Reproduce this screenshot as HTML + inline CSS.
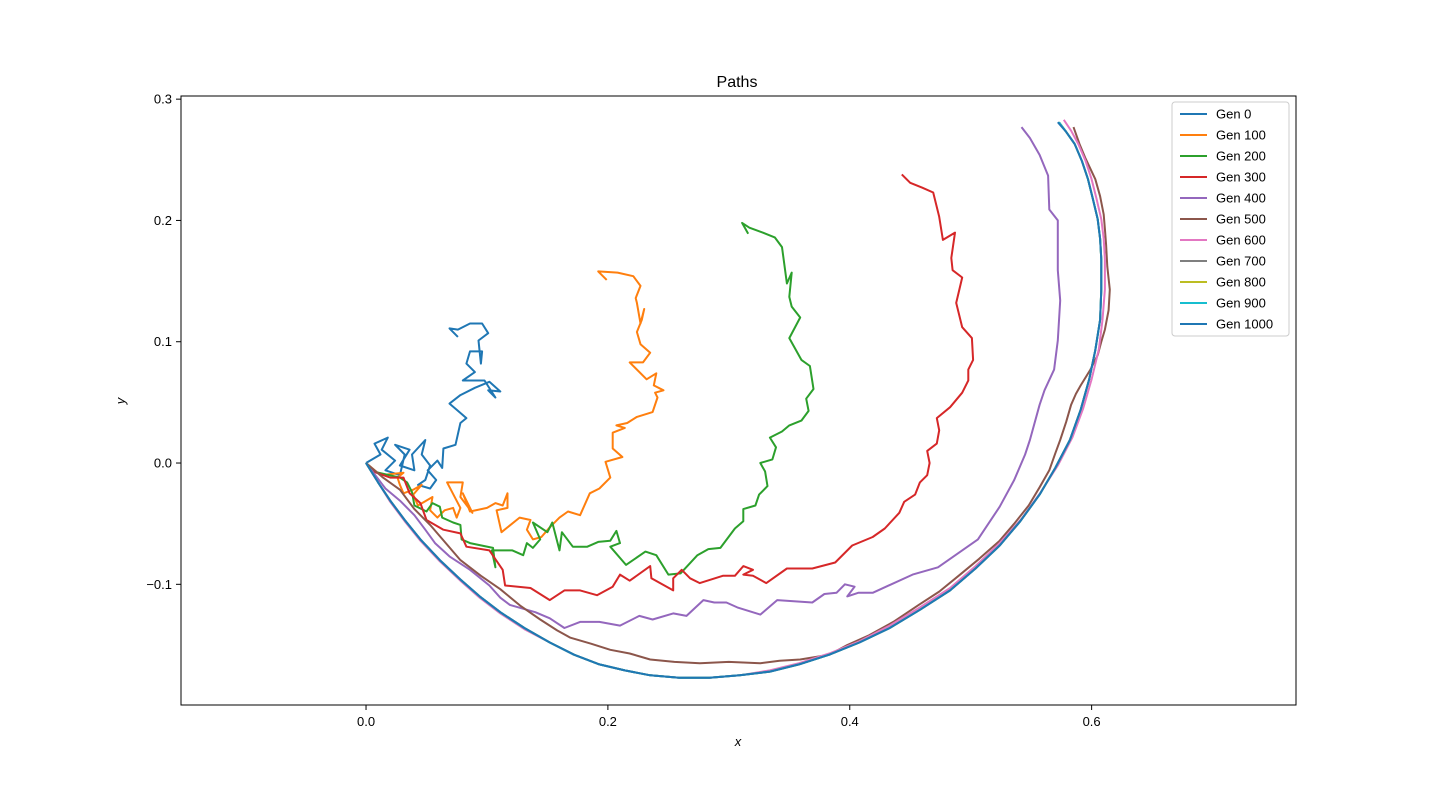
<!DOCTYPE html>
<html><head><meta charset="utf-8"><style>
body{margin:0;background:#fff;}
svg text{font-family:"Liberation Sans","DejaVu Sans",sans-serif;fill:#000;}
</style></head><body>
<svg id="chart" width="1440" height="792" xmlns="http://www.w3.org/2000/svg">
<rect width="1440" height="792" fill="#fff"/>
<text x="737" y="87" font-size="16" text-anchor="middle">Paths</text>
<g id="plot"></g>
<rect x="181" y="96" width="1115" height="609" fill="none" stroke="#000" stroke-width="1"/>
<g id="ticks"></g>
<text x="738" y="746" font-size="13" font-style="italic" text-anchor="middle">x</text>
<text x="125" y="401" font-size="13" font-style="italic" text-anchor="middle" transform="rotate(-90 125 401)">y</text>
<g id="legend"></g>
</svg>
<script>
const xTicks=[0.0,0.2,0.4,0.6];
const yTicks=[-0.1,0.0,0.1,0.2,0.3];
const seriesNames=["Gen 0","Gen 100","Gen 200","Gen 300","Gen 400","Gen 500","Gen 600","Gen 700","Gen 800","Gen 900","Gen 1000"];
const colors=["#1f77b4","#ff7f0e","#2ca02c","#d62728","#9467bd","#8c564b","#e377c2","#7f7f7f","#bcbd22","#17becf","#1f77b4"];
const gen0=[[0,0],[0.012,0.007],[0.007,0.016],[0.018,0.021],[0.013,0.011],[0.024,0.002],[0.016,-0.006],[0.028,-0.010],[0.032,0.007],[0.024,0.015],[0.036,0.011],[0.028,-0.002],[0.040,-0.006],[0.038,0.007],[0.049,0.019],[0.046,0.007],[0.053,-0.002],[0.049,-0.014],[0.043,-0.018],[0.053,-0.021],[0.058,-0.014],[0.051,-0.006],[0.059,0.002],[0.063,-0.004],[0.064,0.012],[0.074,0.015],[0.078,0.033],[0.083,0.037],[0.075,0.044],[0.069,0.049],[0.078,0.056],[0.090,0.062],[0.102,0.067],[0.111,0.059],[0.101,0.060],[0.107,0.054],[0.098,0.068],[0.080,0.068],[0.090,0.075],[0.083,0.082],[0.086,0.092],[0.096,0.092],[0.095,0.082],[0.093,0.101],[0.101,0.107],[0.096,0.115],[0.086,0.115],[0.076,0.110],[0.069,0.111],[0.076,0.104]];
const gen100=[[0,0],[0.012,-0.010],[0.031,-0.008],[0.026,-0.012],[0.028,-0.018],[0.031,-0.025],[0.039,-0.022],[0.046,-0.018],[0.039,-0.026],[0.043,-0.035],[0.055,-0.028],[0.053,-0.039],[0.059,-0.045],[0.065,-0.039],[0.072,-0.037],[0.075,-0.045],[0.078,-0.037],[0.067,-0.016],[0.080,-0.016],[0.078,-0.028],[0.088,-0.041],[0.080,-0.025],[0.086,-0.040],[0.100,-0.037],[0.107,-0.033],[0.113,-0.035],[0.117,-0.025],[0.117,-0.037],[0.108,-0.039],[0.112,-0.057],[0.127,-0.045],[0.136,-0.047],[0.133,-0.055],[0.138,-0.063],[0.145,-0.061],[0.152,-0.053],[0.160,-0.045],[0.167,-0.040],[0.177,-0.043],[0.185,-0.025],[0.193,-0.021],[0.202,-0.012],[0.198,0.001],[0.212,0.005],[0.204,0.012],[0.204,0.025],[0.214,0.029],[0.207,0.031],[0.216,0.033],[0.224,0.038],[0.237,0.042],[0.241,0.054],[0.239,0.058],[0.246,0.060],[0.238,0.064],[0.240,0.074],[0.232,0.069],[0.218,0.083],[0.229,0.083],[0.235,0.091],[0.227,0.098],[0.224,0.108],[0.228,0.118],[0.230,0.127],[0.227,0.115],[0.224,0.132],[0.223,0.136],[0.227,0.146],[0.221,0.154],[0.208,0.157],[0.192,0.158],[0.199,0.151]];
const gen200=[[0,0],[0.006,-0.007],[0.028,-0.012],[0.034,-0.016],[0.038,-0.024],[0.040,-0.035],[0.050,-0.040],[0.055,-0.033],[0.061,-0.036],[0.063,-0.045],[0.072,-0.049],[0.078,-0.051],[0.079,-0.063],[0.086,-0.066],[0.105,-0.070],[0.107,-0.086],[0.104,-0.072],[0.121,-0.072],[0.130,-0.076],[0.133,-0.066],[0.138,-0.070],[0.144,-0.063],[0.138,-0.049],[0.150,-0.057],[0.154,-0.049],[0.160,-0.072],[0.162,-0.057],[0.171,-0.069],[0.183,-0.069],[0.192,-0.065],[0.202,-0.064],[0.207,-0.056],[0.210,-0.066],[0.202,-0.069],[0.215,-0.084],[0.231,-0.073],[0.240,-0.076],[0.250,-0.092],[0.260,-0.091],[0.274,-0.076],[0.283,-0.071],[0.293,-0.070],[0.305,-0.054],[0.312,-0.048],[0.312,-0.038],[0.322,-0.035],[0.325,-0.026],[0.332,-0.019],[0.330,-0.007],[0.326,0.000],[0.336,0.003],[0.339,0.013],[0.334,0.021],[0.344,0.026],[0.350,0.031],[0.360,0.035],[0.366,0.043],[0.364,0.053],[0.370,0.061],[0.367,0.080],[0.360,0.085],[0.350,0.103],[0.359,0.120],[0.352,0.129],[0.350,0.137],[0.352,0.157],[0.348,0.148],[0.344,0.178],[0.338,0.186],[0.328,0.190],[0.317,0.194],[0.311,0.198],[0.316,0.189]];
const gen300=[[0,0],[0.006,-0.007],[0.020,-0.012],[0.031,-0.012],[0.036,-0.025],[0.045,-0.033],[0.050,-0.047],[0.064,-0.055],[0.078,-0.058],[0.083,-0.069],[0.102,-0.072],[0.113,-0.088],[0.115,-0.101],[0.136,-0.103],[0.152,-0.113],[0.164,-0.105],[0.177,-0.105],[0.191,-0.109],[0.204,-0.102],[0.210,-0.092],[0.218,-0.097],[0.235,-0.085],[0.236,-0.095],[0.254,-0.105],[0.254,-0.095],[0.261,-0.088],[0.268,-0.095],[0.276,-0.099],[0.295,-0.093],[0.305,-0.093],[0.312,-0.085],[0.320,-0.088],[0.312,-0.092],[0.320,-0.093],[0.331,-0.099],[0.348,-0.087],[0.369,-0.087],[0.388,-0.082],[0.402,-0.068],[0.419,-0.061],[0.429,-0.054],[0.441,-0.041],[0.445,-0.032],[0.454,-0.026],[0.458,-0.016],[0.464,-0.010],[0.466,0.000],[0.464,0.010],[0.472,0.016],[0.474,0.027],[0.472,0.037],[0.483,0.046],[0.493,0.058],[0.498,0.068],[0.498,0.077],[0.502,0.085],[0.501,0.103],[0.493,0.112],[0.488,0.132],[0.493,0.153],[0.485,0.159],[0.484,0.169],[0.487,0.190],[0.477,0.184],[0.474,0.203],[0.469,0.223],[0.460,0.227],[0.450,0.231],[0.443,0.238]];
const gen400=[[0,0],[0.016,-0.021],[0.028,-0.031],[0.040,-0.043],[0.049,-0.055],[0.057,-0.066],[0.069,-0.077],[0.086,-0.088],[0.102,-0.101],[0.111,-0.111],[0.119,-0.117],[0.140,-0.123],[0.152,-0.128],[0.164,-0.136],[0.177,-0.131],[0.193,-0.131],[0.210,-0.134],[0.226,-0.126],[0.237,-0.129],[0.254,-0.124],[0.265,-0.126],[0.279,-0.113],[0.288,-0.115],[0.298,-0.115],[0.307,-0.119],[0.326,-0.125],[0.340,-0.113],[0.369,-0.115],[0.379,-0.108],[0.389,-0.107],[0.396,-0.100],[0.404,-0.102],[0.398,-0.110],[0.407,-0.107],[0.419,-0.107],[0.452,-0.092],[0.473,-0.086],[0.506,-0.063],[0.524,-0.036],[0.536,-0.014],[0.545,0.007],[0.549,0.019],[0.557,0.048],[0.561,0.060],[0.569,0.077],[0.572,0.101],[0.574,0.134],[0.572,0.159],[0.572,0.200],[0.565,0.209],[0.564,0.237],[0.557,0.254],[0.549,0.268],[0.542,0.277]];
const gen500=[[0,0],[0.014,-0.012],[0.028,-0.022],[0.040,-0.038],[0.053,-0.051],[0.066,-0.066],[0.078,-0.080],[0.095,-0.093],[0.111,-0.104],[0.128,-0.118],[0.144,-0.129],[0.158,-0.138],[0.169,-0.144],[0.186,-0.149],[0.202,-0.154],[0.218,-0.157],[0.235,-0.162],[0.255,-0.164],[0.276,-0.165],[0.300,-0.164],[0.326,-0.165],[0.342,-0.163],[0.359,-0.162],[0.371,-0.160],[0.383,-0.158],[0.398,-0.150],[0.416,-0.142],[0.436,-0.131],[0.457,-0.117],[0.474,-0.106],[0.490,-0.093],[0.507,-0.079],[0.524,-0.064],[0.536,-0.050],[0.548,-0.035],[0.557,-0.020],[0.565,-0.006],[0.570,0.008],[0.574,0.019],[0.579,0.034],[0.583,0.048],[0.587,0.057],[0.591,0.064],[0.599,0.077],[0.605,0.089],[0.608,0.100],[0.611,0.110],[0.614,0.126],[0.615,0.143],[0.613,0.162],[0.612,0.180],[0.611,0.193],[0.610,0.205],[0.607,0.220],[0.603,0.234],[0.595,0.251],[0.590,0.263],[0.585,0.277]];
const gen600=[[0,0],[0.010,-0.016],[0.020,-0.032],[0.032,-0.048],[0.045,-0.064],[0.061,-0.081],[0.078,-0.097],[0.094,-0.111],[0.111,-0.124],[0.131,-0.137],[0.152,-0.148],[0.172,-0.158],[0.193,-0.166],[0.214,-0.171],[0.235,-0.175],[0.259,-0.177],[0.284,-0.177],[0.309,-0.175],[0.334,-0.171],[0.358,-0.165],[0.383,-0.157],[0.408,-0.147],[0.433,-0.134],[0.458,-0.119],[0.483,-0.103],[0.504,-0.085],[0.524,-0.066],[0.542,-0.046],[0.558,-0.024],[0.572,-0.002],[0.584,0.021],[0.593,0.045],[0.600,0.069],[0.606,0.094],[0.609,0.118],[0.611,0.143],[0.611,0.168],[0.610,0.185],[0.608,0.201],[0.604,0.218],[0.600,0.234],[0.595,0.249],[0.589,0.263],[0.583,0.274],[0.577,0.283]];
const gen700=[[0,0],[0.010,-0.016],[0.020,-0.031],[0.032,-0.047],[0.045,-0.063],[0.061,-0.080],[0.078,-0.096],[0.094,-0.110],[0.111,-0.123],[0.131,-0.136],[0.152,-0.148],[0.172,-0.158],[0.193,-0.166],[0.214,-0.171],[0.235,-0.175],[0.259,-0.177],[0.284,-0.177],[0.309,-0.175],[0.334,-0.172],[0.358,-0.166],[0.383,-0.158],[0.408,-0.148],[0.433,-0.136],[0.458,-0.121],[0.483,-0.105],[0.504,-0.087],[0.524,-0.068],[0.541,-0.048],[0.557,-0.026],[0.570,-0.004],[0.582,0.019],[0.591,0.044],[0.598,0.069],[0.603,0.093],[0.607,0.118],[0.608,0.143],[0.608,0.168],[0.607,0.185],[0.605,0.201],[0.601,0.218],[0.597,0.234],[0.592,0.249],[0.586,0.263],[0.579,0.273],[0.573,0.281]];
const gen800=gen700.slice();
const gen900=gen700.slice();
const gen1000=[[0,0],[0.010,-0.016],[0.020,-0.031],[0.032,-0.047],[0.045,-0.063],[0.061,-0.080],[0.078,-0.096],[0.094,-0.110],[0.111,-0.123],[0.131,-0.136],[0.152,-0.148],[0.172,-0.158],[0.193,-0.166],[0.214,-0.171],[0.235,-0.175],[0.259,-0.177],[0.284,-0.177],[0.309,-0.175],[0.334,-0.172],[0.358,-0.166],[0.383,-0.158],[0.408,-0.148],[0.433,-0.136],[0.458,-0.121],[0.483,-0.105],[0.504,-0.087],[0.524,-0.068],[0.541,-0.048],[0.557,-0.026],[0.570,-0.004],[0.582,0.019],[0.591,0.044],[0.598,0.069],[0.603,0.093],[0.607,0.118],[0.608,0.143],[0.608,0.168],[0.607,0.185],[0.605,0.201],[0.601,0.218],[0.597,0.234],[0.592,0.249],[0.586,0.263],[0.579,0.273],[0.572,0.281]];
const allSeries=[gen0,gen100,gen200,gen300,gen400,gen500,gen600,gen700,gen800,gen900,gen1000];

const X0=181,X1=1296,Y0=96,Y1=705,XMIN=-0.153,XMAX=0.769,YMIN=-0.1995,YMAX=0.3026;
function xs(v){return X0+(v-XMIN)/(XMAX-XMIN)*(X1-X0);}
function ys(v){return Y1-(v-YMIN)/(YMAX-YMIN)*(Y1-Y0);}
const NS="http://www.w3.org/2000/svg";
const plot=document.getElementById('plot');
allSeries.forEach((s,i)=>{
  const p=document.createElementNS(NS,'polyline');
  p.setAttribute('points',s.map(d=>xs(d[0]).toFixed(1)+','+ys(d[1]).toFixed(1)).join(' '));
  p.setAttribute('fill','none');p.setAttribute('stroke',colors[i]);
  p.setAttribute('stroke-width','2');p.setAttribute('stroke-linejoin','round');
  
  
  plot.appendChild(p);
});
const ticks=document.getElementById('ticks');
xTicks.forEach(t=>{
  const x=xs(t);
  const l=document.createElementNS(NS,'line');
  l.setAttribute('x1',x);l.setAttribute('x2',x);l.setAttribute('y1',705);l.setAttribute('y2',710);l.setAttribute('stroke','#000');
  
  
  ticks.appendChild(l);
  const tx=document.createElementNS(NS,'text');
  tx.setAttribute('x',x);tx.setAttribute('y',726);tx.setAttribute('font-size','13');tx.setAttribute('text-anchor','middle');
  tx.textContent=t.toFixed(1);
  
  
  ticks.appendChild(tx);
});
yTicks.forEach(t=>{
  const y=ys(t);
  const l=document.createElementNS(NS,'line');
  l.setAttribute('x1',176);l.setAttribute('x2',181);l.setAttribute('y1',y);l.setAttribute('y2',y);l.setAttribute('stroke','#000');
  
  
  ticks.appendChild(l);
  const tx=document.createElementNS(NS,'text');
  tx.setAttribute('x',172);tx.setAttribute('y',y+4.5);tx.setAttribute('font-size','13');tx.setAttribute('text-anchor','end');
  tx.textContent=(t<0?'\u2212':'')+Math.abs(t).toFixed(1);
  
  
  ticks.appendChild(tx);
});
const lg=document.getElementById('legend');
const box=document.createElementNS(NS,'rect');
box.setAttribute('x',1172);box.setAttribute('y',102);box.setAttribute('width',117);box.setAttribute('height',234);
box.setAttribute('rx',3);box.setAttribute('fill','#fff');box.setAttribute('fill-opacity','0.8');box.setAttribute('stroke','#ccc');


lg.appendChild(box);
seriesNames.forEach((n,i)=>{
  const y=114+i*21;
  const l=document.createElementNS(NS,'line');
  l.setAttribute('x1',1180);l.setAttribute('x2',1207);l.setAttribute('y1',y);l.setAttribute('y2',y);
  l.setAttribute('stroke',colors[i]);l.setAttribute('stroke-width','2');
  
  
  lg.appendChild(l);
  const t=document.createElementNS(NS,'text');
  t.setAttribute('x',1216);t.setAttribute('y',y+4.5);t.setAttribute('font-size','13');
  t.textContent=n;
  
  
  lg.appendChild(t);
});
</script>
</body></html>
